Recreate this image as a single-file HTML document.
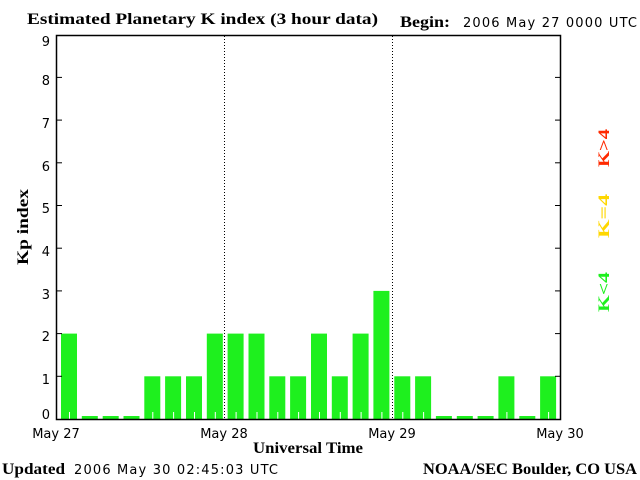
<!DOCTYPE html>
<html><head><style>
html,body{margin:0;padding:0;background:#fff;}
svg{display:block;}
.s{font-family:"DejaVu Sans","Liberation Sans",sans-serif;font-size:13px;}
.b{font-family:"Liberation Serif",serif;font-weight:bold;font-size:16px;}
</style></head><body>
<svg width="640" height="480" xmlns="http://www.w3.org/2000/svg">
<rect width="640" height="480" fill="#fff"/>
<text class="b" x="27" y="24" textLength="351" lengthAdjust="spacingAndGlyphs">Estimated Planetary K index (3 hour data)</text>
<text class="b" x="400" y="27" textLength="50" lengthAdjust="spacingAndGlyphs">Begin:</text>
<text class="s" x="463" y="27" textLength="174">2006 May 27 0000 UTC</text>
<g id="bars" fill="#1ef01e"></g>
<g stroke="#000" stroke-width="1" stroke-dasharray="1,2">
<line x1="224.5" y1="36" x2="224.5" y2="419"/>
<line x1="392.5" y1="36" x2="392.5" y2="419"/>
</g>
<rect x="56.5" y="35.5" width="504" height="384" fill="none" stroke="#000" stroke-width="1.5"/>
<g id="ticks" stroke="#000" stroke-width="1"></g>
<g class="s" text-anchor="end" font-size="15">
<text x="50" y="46">9</text><text x="50" y="85">8</text><text x="50" y="128">7</text>
<text x="50" y="171">6</text><text x="50" y="213">5</text><text x="50" y="256">4</text>
<text x="50" y="299">3</text><text x="50" y="341">2</text><text x="50" y="384">1</text>
<text x="50" y="419">0</text>
</g>
<text class="b" transform="translate(28,227) rotate(-90)" text-anchor="middle" textLength="76" lengthAdjust="spacingAndGlyphs">Kp index</text>
<g class="s" text-anchor="middle">
<text x="56" y="438">May 27</text><text x="224" y="438">May 28</text>
<text x="392" y="438">May 29</text><text x="560" y="438">May 30</text>
</g>
<text class="b" x="308" y="453" text-anchor="middle" textLength="110" lengthAdjust="spacingAndGlyphs">Universal Time</text>
<text class="b" x="2" y="474" textLength="63" lengthAdjust="spacingAndGlyphs">Updated</text>
<text class="s" x="74" y="474" textLength="204">2006 May 30 02:45:03 UTC</text>
<text class="b" x="423" y="474" textLength="214" lengthAdjust="spacingAndGlyphs">NOAA/SEC Boulder, CO USA</text>
<g class="b" font-size="22">
<text transform="translate(609,148) rotate(-90)" text-anchor="middle" fill="#ff2a00" textLength="38" lengthAdjust="spacingAndGlyphs">K&gt;4</text>
<text transform="translate(609,216) rotate(-90)" text-anchor="middle" fill="#ffd700" textLength="44" lengthAdjust="spacingAndGlyphs">K=4</text>
<text transform="translate(609,292) rotate(-90)" text-anchor="middle" fill="#1ef01e" textLength="40" lengthAdjust="spacingAndGlyphs">K&lt;4</text>
</g>
</svg>
<script>
var v=[2,0,0,0,1,1,1,2,2,2,1,1,2,1,2,3,1,1,0,0,0,1,0,1];
var g=document.getElementById('bars'),s='';
for(var i=0;i<24;i++){var x=61+20.83*i;var h=v[i]?v[i]*42.7:3;
s+='<rect x="'+x.toFixed(1)+'" y="'+(419-h).toFixed(1)+'" width="16" height="'+h.toFixed(1)+'"/>';
if(v[i])s+='<rect x="'+(x+8).toFixed(1)+'" y="412" width="1" height="7" fill="#fff"/>';}
g.innerHTML=s;
var t='';for(var k=1;k<9;k++){var y=(419-k*42.7).toFixed(1);
t+='<line x1="56" y1="'+y+'" x2="62" y2="'+y+'"/><line x1="555" y1="'+y+'" x2="561" y2="'+y+'"/>';}
document.getElementById('ticks').innerHTML=t;
</script>
</body></html>
